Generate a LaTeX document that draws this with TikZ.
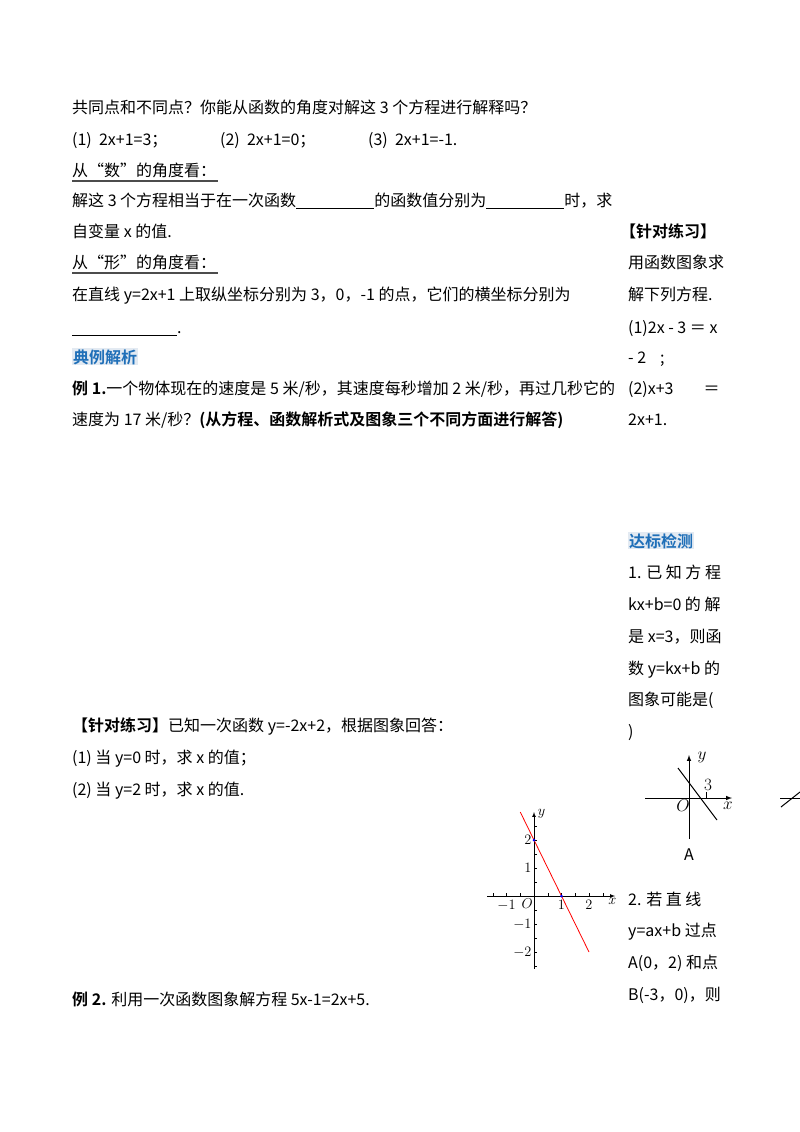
\documentclass[tikz,border=0pt]{standalone}
\usepackage{fontspec}
\setmainfont{Noto Sans CJK SC}[BoldFont={Noto Sans CJK SC Bold}]
\newcommand{\blank}[1]{\rule[-2bp]{#1}{0.5bp}}
\definecolor{hdblue}{HTML}{1F6FB8}
\definecolor{hdbg}{HTML}{E3EAF2}
\begin{document}
\begin{tikzpicture}[x=1bp,y=-1bp,
  txt/.style={anchor=base west,inner sep=0pt,font=\fontsize{16bp}{18bp}\selectfont},
  hd/.style={txt,fill=hdbg,text=hdblue,font=\fontsize{16bp}{18bp}\selectfont\bfseries,inner sep=1bp},
  ax/.style={-latex,line width=0.7bp},
  tk/.style={font=\fontsize{14bp}{15bp}\selectfont,inner sep=1pt}]
\useasboundingbox (0,0) rectangle (800,1132);
\node[txt] (l1) at (72,113) {共同点和不同点？你能从函数的角度对解这 3 个方程进行解释吗？};
\node[txt] (l2) at (72,145) {(1)\ \ 2x+1=3；};
\node[txt] (l2b) at (220,145) {(2)\ \ 2x+1=0；};
\node[txt] (l2c) at (368,145) {(3)\ \ 2x+1=-1.};
\node[txt] (l3) at (72,176) {从“数”的角度看：};
\draw[line width=1.2bp,gray!60!black] (72,181) -- (218,181);
\node[txt] (l4) at (72,206) {解这 3 个方程相当于在一次函数\blank{78bp}的函数值分别为\blank{78bp}时，求};
\node[txt] (l5) at (72,237) {自变量 x 的值.};
\node[txt] (l6) at (72,268) {从“形”的角度看：};
\draw[line width=1.2bp,gray!60!black] (72,273) -- (218,273);
\node[txt] (l7) at (72,300) {在直线 y=2x+1 上取纵坐标分别为 3，0，-1 的点，它们的横坐标分别为};
\node[txt] (l8) at (72,333) {\blank{105bp}.};
\node[hd] (h1) at (72,363) {典例解析};
\node[txt] (l9) at (72,394) {\textbf{例 1.}一个物体现在的速度是 5 米/秒，其速度每秒增加 2 米/秒，再过几秒它的};
\node[txt] (l10) at (72,425) {速度为 17 米/秒？\textbf{(从方程、函数解析式及图象三个不同方面进行解答)}};
% right column
\node[txt] (r1) at (620,237) {\textbf{【针对练习】}};
\node[txt] (r2) at (628,268) {用函数图象求};
\node[txt] (r3) at (628,300) {解下列方程.};
\node[txt] (r4) at (628,333) {(1)2x - 3 ＝ x};
\node[txt] (r5) at (628,363) {- 2\hspace{14bp};};
\node[txt] (r6) at (628,394) {(2)x+3\hspace{30bp}＝};
\node[txt] (r7) at (628,425) {2x+1.};
\node[hd] (h2) at (628,547) {达标检测};
\node[txt] (r8) at (628,578) {1. 已 知 方 程};
\node[txt] (r9) at (628,610) {kx+b=0 的 解};
\node[txt] (r10) at (628,642) {是 x=3，则函};
\node[txt] (r11) at (628,674) {数 y=kx+b 的};
\node[txt] (r12) at (628,705) {图象可能是(};
\node[txt] (r13) at (628,737) {)};
\node[txt] (r14) at (628,905) {2. 若 直 线};
\node[txt] (r15) at (628,936) {y=ax+b 过点};
\node[txt] (r16) at (628,968) {A(0，2) 和点};
\node[txt] (r17) at (628,1000) {B(-3，0)，则};
% practice
\node[txt] (p1) at (72,731) {\textbf{【针对练习】}已知一次函数 y=-2x+2，根据图象回答：};
\node[txt] (p2) at (72,763) {(1) 当 y=0 时，求 x 的值；};
\node[txt] (p3) at (72,795) {(2) 当 y=2 时，求 x 的值.};
\node[txt] (p4) at (72,1005) {\textbf{例 2.} 利用一次函数图象解方程 5x-1=2x+5.};
% graph 1
\begin{scope}[shift={(534,896)},x=27.5bp,y=28bp]
\coordinate (xs) at (-1.7,0); \coordinate (xe) at (2.95,0);
\coordinate (ys) at (0,-2.6); \coordinate (ye) at (0,3.0);
\draw[ax] (xs) -- (xe);
\draw[ax] (ys) -- (ye);
\foreach \t in {-1.5,-1,...,2.5} \draw (\t,0) -- (\t,0.1);
\foreach \t in {-2.5,-2,...,2.5} \draw (0,\t) -- (0.12,\t);
\node[tk,anchor=north] at (-1,-0.1) {$-1$};
\node[tk,anchor=north] at (1,-0.1) {$1$};
\node[tk,anchor=north] at (2,-0.1) {$2$};
\node[tk,anchor=north east] at (0,-0.05) {$O$};
\node[tk,anchor=north] at (2.85,-0.05) {$x$};
\node[tk,anchor=west] at (0.1,2.95) {$y$};
\foreach \t in {-2,-1,1,2} \node[tk,anchor=east] at (-0.05,\t) {$\t$};
\coordinate (ra) at (-0.5,3); \coordinate (rb) at (2,-2);
\draw[red,line width=0.8bp] (ra) -- (rb);
\fill[blue] (0,2) circle (1.5bp) (1,0) circle (1.5bp);
\end{scope}
% graph 2
\coordinate (o2) at (689,798);
\draw[line width=1bp,-latex] (645,798) -- (732,798);
\draw[line width=1bp,-latex] (689,839) -- (689,755);
\draw[line width=1bp] (678,768) -- (717,820);
\draw (706,798) -- (706,792);
\node[tk,font=\fontsize{16bp}{17bp}\selectfont] at (708,785) {$3$};
\node[tk,font=\fontsize{16bp}{17bp}\selectfont] at (702,757) {$y$};
\node[tk,font=\fontsize{16bp}{17bp}\selectfont] at (683,806) {$O$};
\node[tk,font=\fontsize{16bp}{17bp}\selectfont] at (728,806) {$x$};
\node[txt,anchor=base] at (689,860) {A};
% partial graph 3
\draw[line width=1bp] (780,798) -- (800,798);
\draw[line width=1bp] (781,807) -- (800,792);
\end{tikzpicture}
\end{document}
